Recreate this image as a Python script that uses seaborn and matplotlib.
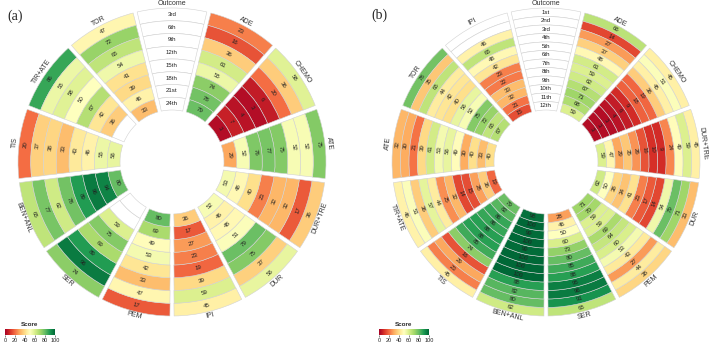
import numpy as np
import matplotlib
import matplotlib.pyplot as plt
import seaborn as sns

sns.set_theme(style="white")
plt.rcParams['font.family'] = ['Liberation Sans', 'DejaVu Sans']

# ---- panel (a): outer ring -> inner ring = 3rd ... 24th
outcomes_a = ["3rd", "6th", "9th", "12th", "15th", "18th", "21st", "24th"]
# sectors listed clockwise, starting right after the Outcome sector
sectors_a = ["ADE", "CHEMO", "ATE", "DUR+TRE", "DUR", "IPI", "PEM", "SER",
             "BEN+ANL", "TIS", "TIR+ATE", "TOR"]
ade_a = [23, 16, 36, 61, 55, 74, 78, 79]
chemo_a = [58, 36, 20, 6, 3, 4, 7, 3]
ate_a = [75, 52, 52, 75, 77, 76, 52, 29]
durtre_a = [36, 17, 32, 32, 23, 40, 48, 53]
dur_a = [56, 37, 75, 79, 51, 48, 46, 52]
ipi_a = [45, 59, 39, 19, 23, 27, 17, 36]
pem_a = [17, 47, 33, 42, 53, 49, 69, 80]
ser_a = [74, 96, 89, 69, 75, 59, np.nan, np.nan]
benanl_a = [65, 77, 62, 78, 89, 96, 94, 80]
tis_a = [20, 37, 38, 33, 43, 46, 55, 56]
tirate_a = [86, 55, 58, 50, 67, 42, 36, np.nan]
tor_a = [47, 72, 65, 54, 41, 39, 46, 33]

# ---- panel (b): outer ring -> inner ring = 1st ... 12th
outcomes_b = ["1st", "2nd", "3rd", "4th", "5th", "6th", "7th", "8th",
              "9th", "10th", "11th", "12th"]
sectors_b = ["ADE", "CHEMO", "DUR+TRE", "DUR", "PEM", "SER", "BEN+ANL",
             "TIS", "TIR+ATE", "ATE", "TOR", "IPI"]
ade_b = [66, 14, 27, 37, 48, 61, 59, 62, 67, 71, 68, 59]
chemo_b = [45, 51, 45, 36, 19, 18, 9, 6, 4, 3, 3, 3]
durtre_b = [45, 59, 49, 24, 9, 10, 16, 26, 35, 29, 47, 59]
dur_b = [33, 71, 79, 54, 14, 17, 23, 41, 34, 38, 50, 62]
pem_b = [38, 44, 27, 43, 53, 60, 64, 69, 59, 59, 70, 71]
ser_b = [65, 91, 96, 95, 88, 85, 80, 73, 60, 50, 46, 28]
benanl_b = [62, 80, 82, 88, 100, 100, 100, 99, 100, 99, 100, 98]
tis_b = [45, 23, 29, 16, 74, 85, 88, 88, 86, 86, 82, 79]
tirate_b = [46, 51, 36, 57, 44, 25, 32, 14, 15, 28, 36, 19]
ate_b = [32, 30, 21, 39, 61, 53, 56, 49, 30, 40, 33, 40]
tor_b = [78, 35, 65, 44, 42, 40, 56, 52, 75, 72, 65, 67]
ipi_b = [np.nan, np.nan, 46, 65, 48, 42, 23, 22, 33, 32, 21, 15]

FIG_W, FIG_H = 709, 346
R_IN, R_OUT = 52, 154      # ring radii in pixels
GAP_PX = 4                 # white gap between sectors
LIM = 170

cmap = sns.color_palette("RdYlGn", as_cmap=True)
norm = matplotlib.colors.Normalize(0, 100)


def text_rot(theta):
    deg = np.degrees(theta) % 360
    if deg <= 180:
        return deg - 90
    return (deg + 90) % 360


def draw_panel(fig, cx, cy, outcomes, sectors, scores):
    ax = fig.add_axes([(cx - LIM) / FIG_W, (FIG_H - cy - LIM) / FIG_H,
                       2 * LIM / FIG_W, 2 * LIM / FIG_H], projection='polar')
    ax.set_ylim(0, LIM)
    ax.set_axis_off()

    names = ["Outcome"] + sectors
    step = 2 * np.pi / len(names)
    n_ring = len(outcomes)
    bw = (R_OUT - R_IN) / n_ring

    for k, name in enumerate(names):
        theta = np.pi / 2 - k * step   # clockwise from the top
        rot = text_rot(theta)
        for i in range(n_ring):
            r0 = R_OUT - (i + 1) * bw
            rm = r0 + bw / 2
            if name == "Outcome":
                color, txt = "white", outcomes[i]
            else:
                v = scores[name][i]
                if np.isnan(v):
                    color, txt = "white", ""
                else:
                    color, txt = cmap(norm(v)), f"{v:.0f}"
            ax.bar(theta, bw, width=step - GAP_PX / rm, bottom=r0,
                   color=color, edgecolor="#d2d2d2", linewidth=0.4)
            ax.text(theta, rm, txt, rotation=rot, ha='center', va='center',
                    rotation_mode='anchor', fontsize=4.4, color='#222222')
        ax.text(theta, R_OUT + 4.5, name, rotation=rot, ha='center', va='center',
                rotation_mode='anchor', fontsize=5, color='#333333')
    return ax


def draw_colorbar(fig, x0):
    cax = fig.add_axes([x0 / FIG_W, 11 / FIG_H, 50 / FIG_W, 6 / FIG_H])
    sm = matplotlib.cm.ScalarMappable(norm=norm, cmap=cmap)
    cb = fig.colorbar(sm, cax=cax, orientation='horizontal')
    cb.set_ticks([0, 20, 40, 60, 80, 100])
    cb.outline.set_visible(False)
    cax.tick_params(labelsize=4, length=1.5, width=0.4, pad=1)
    cax.set_title("Score", fontsize=4.5, fontweight='bold', pad=2)


fig = plt.figure(figsize=(FIG_W / 100, FIG_H / 100), dpi=100)

scores_a = dict(zip(sectors_a, [ade_a, chemo_a, ate_a, durtre_a, dur_a, ipi_a,
                                pem_a, ser_a, benanl_a, tis_a, tirate_a, tor_a]))
scores_b = dict(zip(sectors_b, [ade_b, chemo_b, durtre_b, dur_b, pem_b, ser_b,
                                benanl_b, tis_b, tirate_b, ate_b, tor_b, ipi_b]))

draw_panel(fig, 172, 162, outcomes_a, sectors_a, scores_a)
draw_panel(fig, 546, 162, outcomes_b, sectors_b, scores_b)
draw_colorbar(fig, 5)
draw_colorbar(fig, 379)

fig.text(7 / FIG_W, 1 - 16 / FIG_H, "(a)", family='Liberation Serif',
         fontsize=10, va='center')
fig.text(371 / FIG_W, 1 - 15 / FIG_H, "(b)", family='Liberation Serif',
         fontsize=10, va='center')

fig.savefig("out.png", dpi=100)
